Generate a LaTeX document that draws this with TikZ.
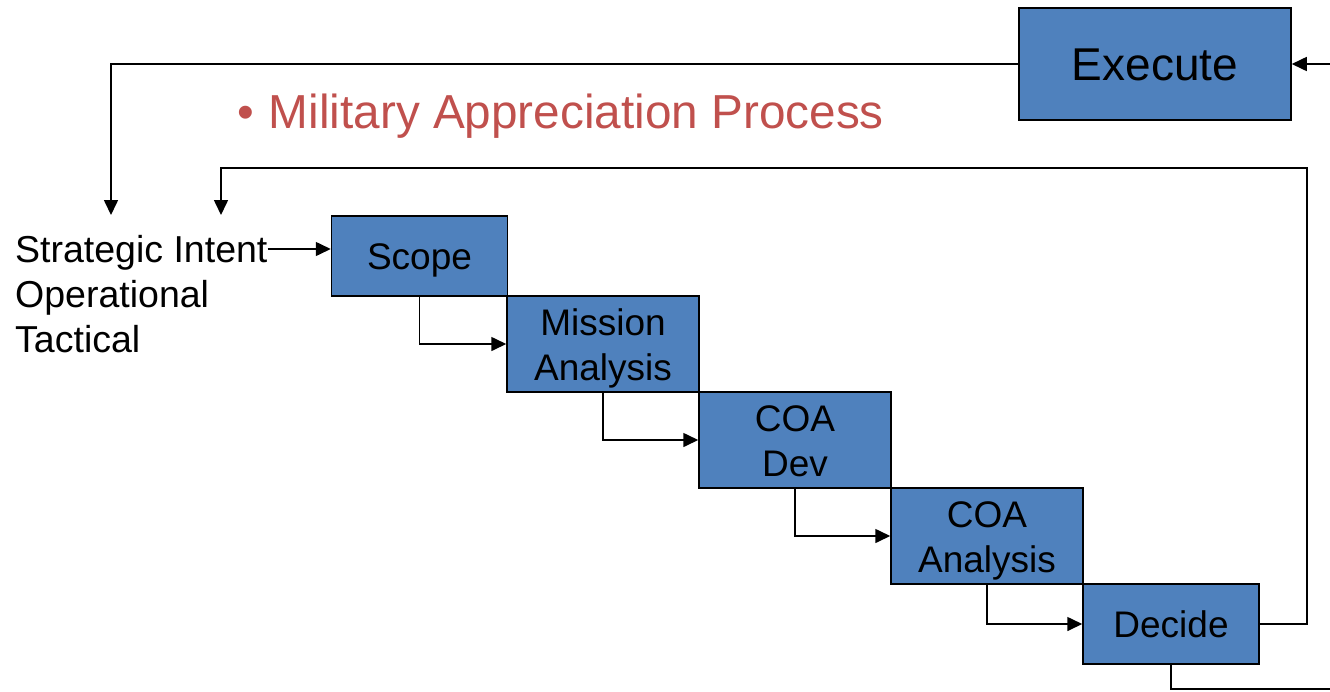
\documentclass[tikz,border=0pt]{standalone}
\usepackage{fontspec}
\setmainfont{Liberation Sans}
\usetikzlibrary{arrows.meta}
\definecolor{stageblue}{HTML}{4F81BD}
\definecolor{titlered}{HTML}{C0504D}
\begin{document}
\begin{tikzpicture}[x=1pt,y=-1pt]
	\tikzstyle{box_stage} = [draw=black, line width=1.5pt, fill=stageblue, align=center, inner sep=0pt, minimum width=192pt, minimum height=96pt, text height=72pt, text depth=0pt, font=\fontsize{37}{45}\selectfont]
	\tikzstyle{box_small} = [box_stage, minimum width=176pt, minimum height=80pt, text height=27pt]
	\tikzstyle{text_level} = [anchor=base west, inner sep=0pt, font=\fontsize{37.5}{45}\selectfont]
	\tikzstyle{arrow_line} = [line width=1.6pt, -{Triangle[length=15pt,width=14pt]}]
	\tikzstyle{plain_line} = [line width=1.6pt]

	\useasboundingbox (0,0) rectangle (1330,691);

%------------------------------------------------------------
	\node[draw=black, line width=1.5pt, fill=stageblue, inner sep=0pt, minimum width=272pt, minimum height=112pt, text height=33pt, text depth=0pt, font=\fontsize{46}{50}\selectfont] (exe) at (1155,64) {Execute};
	\node[anchor=base west, inner sep=0pt, text=titlered, font=\fontsize{47.7}{50}\selectfont] (title) at (237.5,128) {•\hspace{14.5pt}Military Appreciation Process};

%------------------------------------------------------------
	\node[text_level] (strat) at (15,262) {Strategic Intent};
	\node[text_level] (oper) at (15,307) {Operational};
	\node[text_level] (tact) at (15,352) {Tactical};

%------------------------------------------------------------
	\node[box_small] (scope) at (419.5,256) {Scope};
	\node[box_stage] (mission) at (603,344) {Mission\\Analysis};
	\node[box_stage] (coadev) at (795,440) {COA\\Dev};
	\node[box_stage] (coaana) at (987,536) {COA\\Analysis};
	\node[box_small] (decide) at (1171,624) {Decide};

%------------------------------------------------------------
	\coordinate (fb_exe) at (111,215);
	\coordinate (fb_dec) at (221,215);
	\coordinate (in_exe) at (1330,64);
	\coordinate (out_dec) at (1330,689);

	\draw[arrow_line] ([yshift=13pt]strat.base east) -- ([yshift=13pt]strat.base east -| scope.west);
	\draw[arrow_line] (scope.south) |- (mission.west);
	\draw[arrow_line] (mission.south) |- (coadev.west);
	\draw[arrow_line] (coadev.south) |- (coaana.west);
	\draw[arrow_line] (coaana.south) |- (decide.west);

	\draw[arrow_line] (decide.east) -| (1307,168) -| (fb_dec);
	\draw[arrow_line] (exe.west) -| (fb_exe);
	\draw[arrow_line] (in_exe) -- (exe.east);
	\draw[plain_line] (decide.south) |- (out_dec);
\end{tikzpicture}
\end{document}
